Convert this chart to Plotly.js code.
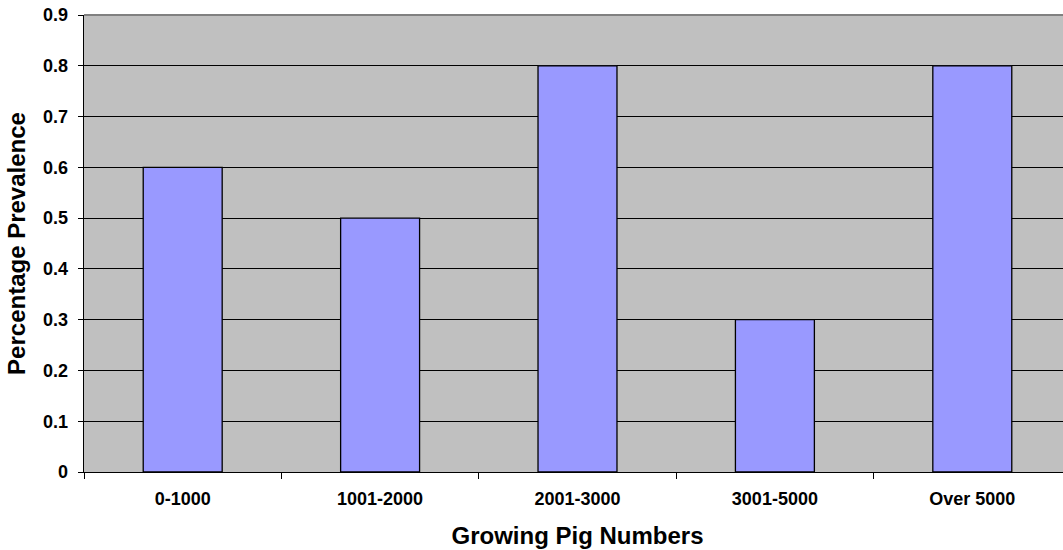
<!DOCTYPE html>
<html>
<head>
<meta charset="utf-8">
<script src="https://cdn.plot.ly/plotly-3.0.1.min.js"></script>
<style>
html,body{margin:0;padding:0;background:#fff;overflow:hidden;}
#frame{width:1063px;height:550px;overflow:hidden;}
#chart{width:1071px;height:550px;}
</style>
</head>
<body>
<div id="frame"><div id="chart"></div></div>
<script>
// Prevalence by herd size
const herdSizes = ['0-1000', '1001-2000', '2001-3000', '3001-5000', 'Over 5000'];
const prevalence = [0.6, 0.5, 0.8, 0.3, 0.8];
const yTickValues = [0, 0.1, 0.2, 0.3, 0.4, 0.5, 0.6, 0.7, 0.8, 0.9];
const yTickLabels = ['0', '0.1', '0.2', '0.3', '0.4', '0.5', '0.6', '0.7', '0.8', '0.9'];

const font = 'Liberation Sans, Arial, sans-serif';

const trace = {
  type: 'bar',
  x: herdSizes,
  y: prevalence,
  marker: { color: '#9999ff', line: { color: '#000000', width: 1.3 } },
  hoverinfo: 'x+y'
};

// The plot area runs slightly past the right edge of the visible frame
const layout = {
  width: 1071,
  height: 550,
  margin: { l: 84, r: 0, t: 15, b: 78 },
  paper_bgcolor: '#ffffff',
  plot_bgcolor: '#c0c0c0',
  bargap: 0.6,
  showlegend: false,
  font: { family: font, color: '#000000' },
  xaxis: {
    type: 'category',
    automargin: false,
    showgrid: false,
    showline: true,
    linecolor: '#000000',
    linewidth: 1.3,
    ticks: 'outside',
    tickson: 'boundaries',
    ticklen: 6,
    tickcolor: '#000000',
    tickwidth: 1,
    ticklabelstandoff: 10,
    tickfont: { family: font, size: 18, color: '#000000', weight: 'bold' },
    title: { text: '<b>Growing Pig Numbers</b>', font: { family: font, size: 24, color: '#000000' }, standoff: 19 },
    fixedrange: true
  },
  yaxis: {
    range: [0, 0.9],
    automargin: false,
    tickvals: yTickValues,
    ticktext: yTickLabels,
    showgrid: true,
    gridcolor: '#000000',
    gridwidth: 1,
    zeroline: false,
    showline: true,
    linecolor: '#000000',
    linewidth: 1.3,
    ticks: 'outside',
    ticklen: 5,
    tickcolor: '#000000',
    tickwidth: 1,
    ticklabelstandoff: 6,
    tickfont: { family: font, size: 18, color: '#000000', weight: 'bold' },
    title: { text: '<b>Percentage Prevalence</b>', font: { family: font, size: 24, color: '#000000' }, standoff: 10 },
    fixedrange: true
  },
  shapes: [
    { type: 'line', xref: 'paper', yref: 'paper', x0: 0, x1: 1, y0: 1, y1: 1,
      line: { color: '#808080', width: 2 } }
  ]
};

Plotly.newPlot('chart', [trace], layout, { displayModeBar: false, staticPlot: true });
</script>
</body>
</html>
